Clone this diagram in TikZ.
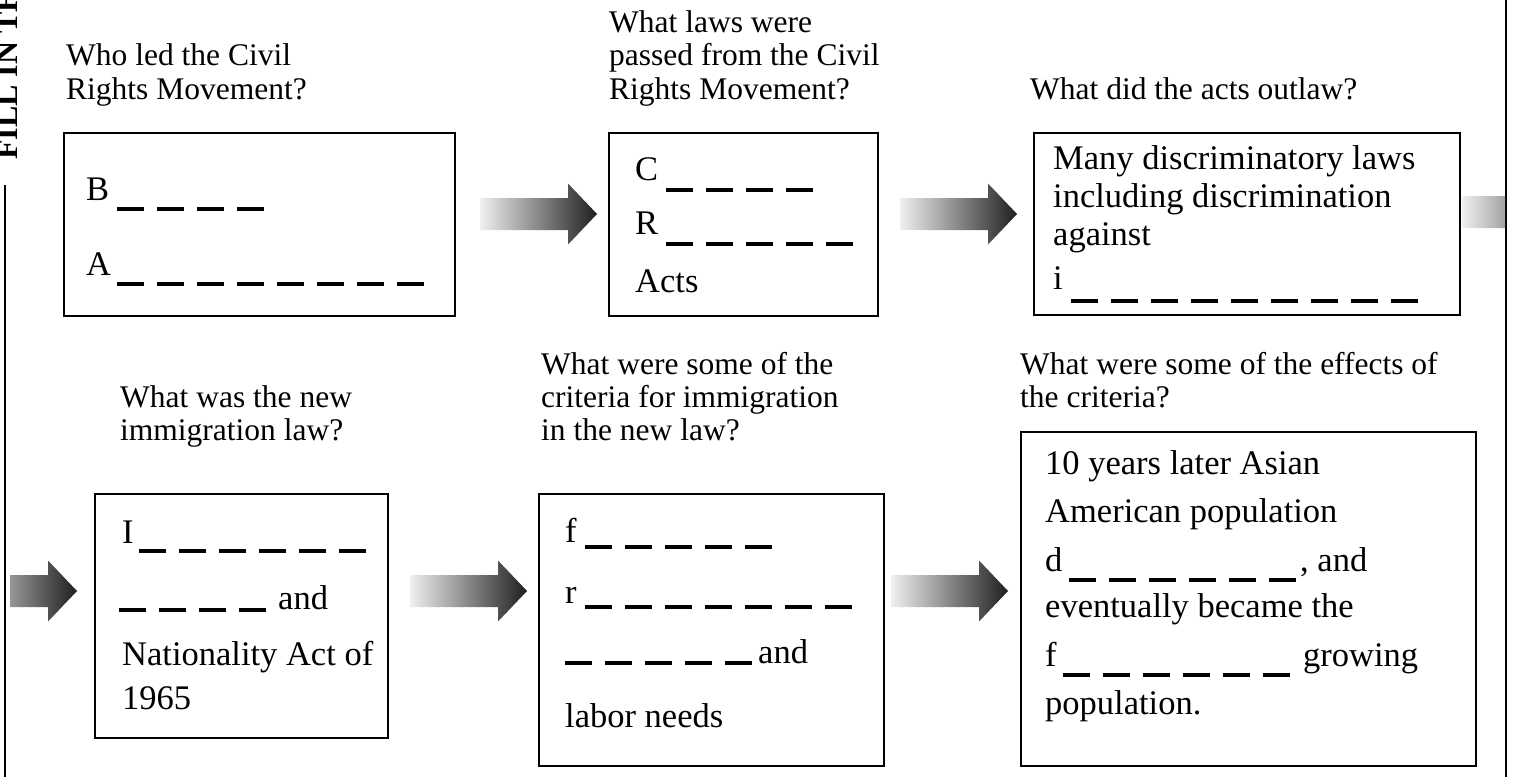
\documentclass[tikz,border=0pt]{standalone}
\usepackage{fontspec}
\setmainfont{Liberation Serif}
\usetikzlibrary{positioning}

\tikzset{
  frame/.style={draw, line width=2.5bp, anchor=north west, inner sep=0pt, outer sep=0pt},
  qtext/.style={anchor=base west, inner sep=0pt, align=left, font=\fontsize{31.5bp}{33bp}\selectfont},
  btext/.style={anchor=base west, inner sep=0pt, font=\fontsize{34.5bp}{40bp}\selectfont},
  blank/.style={line width=4bp, dash pattern=on 27bp off 13bp},
  fillarrow/.style={left color=black!6, right color=black!88, draw=none},
}
% row of #2 blanks starting at #1
\newcommand{\blankline}[2]{\draw[blank] #1 -- ++({#2*40-13},0);}
% shaded block arrow, #1 = left end of the body (middle)
\newcommand{\grayarrow}[1]{\shade[fillarrow] #1 ++(0,-16) -- ++(88,0) -- ++(0,-14.5)
  -- ++(29,30.5) -- ++(-29,30.5) -- ++(0,-14.5) -- ++(-88,0) -- cycle;}

\begin{document}
\begin{tikzpicture}[x=1bp, y=-1bp]
        \useasboundingbox (0,0) rectangle (1513,777);
        \clip (0,0) rectangle (1513,777);

        % page edges
        \coordinate (L1) at (5,185);
        \coordinate (L2) at (5,777);
        \coordinate (R1) at (1506,0);
        \coordinate (R2) at (1506,777);
        \draw[line width=2bp] (L1) -- (L2);
        \draw[line width=2.5bp] (R1) -- (R2);
        \node[rotate=90, anchor=base west, inner sep=0pt, font=\bfseries\fontsize{32bp}{32bp}\selectfont] (title) at (17,160) {FILL IN THE};

        % questions (placed by the baseline of their last line)
        \node[qtext] (q1) at (66,99) {Who led the Civil\\Rights Movement?};
        \node[qtext] (q2) at (609,99) {What laws were\\passed from the Civil\\Rights Movement?};
        \node[qtext] (q3) at (1030,99) {What did the acts outlaw?};
        \node[qtext] (q4) at (120,440) {What was the new\\immigration law?};
        \node[qtext] (q5) at (541,440) {What were some of the\\criteria for immigration\\in the new law?};
        \node[qtext] (q6) at (1020,407) {What were some of the effects of\\the criteria?};

        % boxes
        \node[frame, minimum width=391bp, minimum height=183bp] (box1) at (64,133) {};
        \node[frame, minimum width=269bp, minimum height=183bp] (box2) at (609,133) {};
        \node[frame, minimum width=426bp, minimum height=182bp] (box3) at (1034,133) {};
        \node[frame, minimum width=293bp, minimum height=244bp] (box4) at (95,494) {};
        \node[frame, minimum width=345bp, minimum height=272bp] (box5) at (539,494) {};
        \node[frame, minimum width=455bp, minimum height=334bp] (box6) at (1021,432) {};

        % arrows
        \coordinate (a1) at (480,214);
        \coordinate (a2) at (900,214);
        \coordinate (a4) at (410,591);
        \coordinate (a5) at (891,591);
        \grayarrow{(a1)}
        \grayarrow{(a2)}
        \grayarrow{(a4)}
        \grayarrow{(a5)}
        \begin{scope}
          \clip (1400,150) rectangle (1505,260);
          \coordinate (a3) at (1462,212);
          \grayarrow{(a3)}
        \end{scope}
        \begin{scope}
          \clip (10,540) rectangle (100,640);
          \coordinate (a0) at (-40,591);
          \grayarrow{(a0)}
        \end{scope}

        % box 1
        \node[btext] (b1) at (86,200) {B};
        \blankline{(117,209)}{4}
        \node[btext] (b2) at (86,275) {A};
        \blankline{(117,284)}{8}

        % box 2
        \node[btext] (c1) at (635,180) {C};
        \blankline{(666,190)}{4}
        \node[btext] (c2) at (635,234) {R};
        \blankline{(666,244)}{5}
        \node[btext] (c3) at (635,292) {Acts};

        % box 3
        \node[btext] (d1) at (1053,169) {Many discriminatory laws};
        \node[btext] (d2) at (1053,207) {including discrimination};
        \node[btext] (d3) at (1053,245) {against};
        \node[btext] (d4) at (1053,289) {i};
        \blankline{(1071,301)}{9}

        % box 4
        \node[btext] (e1) at (122,543) {I};
        \blankline{(139,551)}{6}
        \blankline{(119,610)}{4}
        \node[btext] (e2) at (278,609) {and};
        \node[btext] (e3) at (122,665) {Nationality Act of};
        \node[btext] (e4) at (122,709) {1965};

        % box 5
        \node[btext] (f1) at (565,542) {f};
        \blankline{(585,547)}{5}
        \node[btext] (f2) at (565,603) {r};
        \blankline{(585,607)}{7}
        \blankline{(565,663)}{5}
        \node[btext] (f3) at (758,663) {and};
        \node[btext] (f4) at (565,727) {labor needs};

        % box 6
        \node[btext] (g1) at (1045,474) {10 years later Asian};
        \node[btext] (g2) at (1045,522) {American population};
        \node[btext] (g3) at (1045,571) {d};
        \blankline{(1069,580)}{6}
        \node[btext] (g4) at (1300,571) {, and};
        \node[btext] (g5) at (1045,617) {eventually became the};
        \node[btext] (g6) at (1045,666) {f};
        \blankline{(1063,675)}{6}
        \node[btext] (g7) at (1303,666) {growing};
        \node[btext] (g8) at (1045,714) {population.};
\end{tikzpicture}
\end{document}
